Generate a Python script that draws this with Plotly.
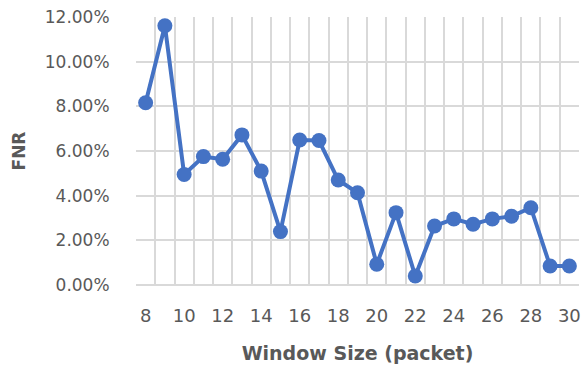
import plotly.graph_objects as go

# Window sizes (packets) and the false negative rate measured at each
window_size = [8, 9, 10, 11, 12, 13, 14, 15, 16, 17, 18, 19, 20, 21, 22, 23, 24, 25, 26, 27, 28, 29, 30]
fnr = [0.0816, 0.1161, 0.0495, 0.0575, 0.0563, 0.0672, 0.0510, 0.0239, 0.0649, 0.0647,
       0.0470, 0.0413, 0.0093, 0.0324, 0.0040, 0.0264, 0.0296, 0.0272, 0.0296, 0.0308,
       0.0346, 0.0085, 0.0085]

x_ticks = list(range(8, 31, 2))
y_ticks = [0, 0.02, 0.04, 0.06, 0.08, 0.10, 0.12]

grid = "#d9d9d9"
text_gray = "#595959"
font_family = "'DejaVu Sans', 'Open Sans', sans-serif"

fig = go.Figure(
    go.Scatter(
        x=window_size,
        y=fnr,
        mode="lines+markers",
        line=dict(color="#4472C4", width=4),
        marker=dict(color="#4472C4", size=15),
        cliponaxis=False,
    )
)

fig.update_layout(
    width=585,
    height=371,
    margin=dict(l=136, r=4, t=17, b=86),
    paper_bgcolor="white",
    plot_bgcolor="white",
    showlegend=False,
    font=dict(family=font_family, color=text_gray),
)

fig.update_xaxes(
    range=[7.5, 30.5],
    tickvals=x_ticks,
    ticktext=[str(v) for v in x_ticks],
    showgrid=False,
    zeroline=False,
    ticks="outside",
    ticklen=14,
    tickcolor="rgba(0,0,0,0)",
    tickfont=dict(size=18, color=text_gray),
    minor=dict(
        tickvals=[v + 0.5 for v in range(7, 31)],
        showgrid=True,
        gridcolor=grid,
        gridwidth=1.5,
    ),
    title=dict(text="<b>Window Size (packet)</b>", font=dict(size=19, color=text_gray), standoff=22),
    showline=False,
)

fig.update_yaxes(
    range=[0, 0.12],
    tickvals=y_ticks,
    tickformat=".2%",
    showgrid=True,
    gridcolor=grid,
    gridwidth=1.5,
    zeroline=True,
    zerolinecolor=grid,
    zerolinewidth=1.5,
    ticks="outside",
    ticklen=22,
    tickcolor="rgba(0,0,0,0)",
    tickfont=dict(size=17, color=text_gray),
    title=dict(text="<b>FNR</b>", font=dict(size=17, color=text_gray), standoff=14),
)

fig.write_html("out.html")
